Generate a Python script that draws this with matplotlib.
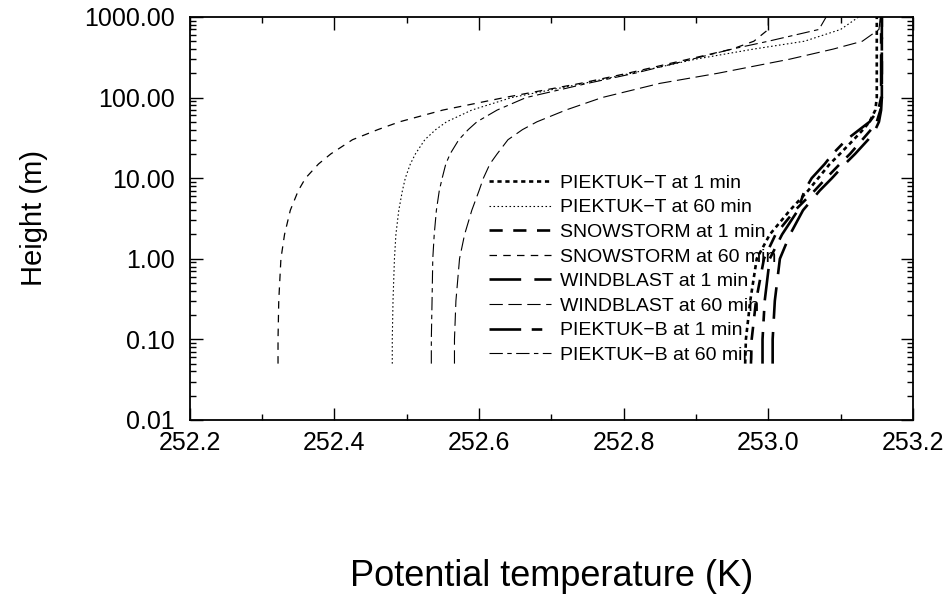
import numpy as np
import matplotlib.pyplot as plt
from matplotlib.ticker import FixedLocator, FormatStrFormatter, LogLocator, NullFormatter

plt.rcParams['font.family'] = ['Liberation Sans', 'DejaVu Sans']

heights = [0.05, 0.1, 0.3, 1, 2, 4, 7, 10, 15, 20, 30, 40, 50, 70,
           100, 150, 200, 300, 400, 500, 700, 1000]

# potential temperature (K)
piektuk_t_1 = [252.968, 252.969, 252.975, 252.984, 253.002, 253.030, 253.055, 253.069, 253.085, 253.099,
               253.118, 253.131, 253.140, 253.148, 253.150, 253.150, 253.150, 253.150, 253.150, 253.150,
               253.150, 253.150]
piektuk_t_60 = [252.480, 252.480, 252.481, 252.483, 252.485, 252.489, 252.494, 252.498, 252.505, 252.512,
                252.525, 252.540, 252.555, 252.590, 252.645, 252.745, 252.810, 252.900, 252.980, 253.050,
                253.100, 253.125]
snowstorm_1 = [252.976, 252.977, 252.983, 252.994, 253.010, 253.037, 253.064, 253.080, 253.099, 253.113,
               253.130, 253.142, 253.150, 253.155, 253.157, 253.157, 253.157, 253.157, 253.157, 253.157,
               253.157, 253.157]
snowstorm_60 = [252.322, 252.322, 252.323, 252.326, 252.331, 252.339, 252.350, 252.360, 252.378, 252.395,
                252.425, 252.460, 252.490, 252.550, 252.635, 252.740, 252.805, 252.890, 252.950, 252.980,
                253.000, 253.000]
windblast_1 = [253.006, 253.006, 253.009, 253.016, 253.030, 253.048, 253.071, 253.088, 253.106, 253.120,
               253.138, 253.148, 253.153, 253.156, 253.157, 253.157, 253.157, 253.157, 253.157, 253.157,
               253.157, 253.157]
windblast_60 = [252.566, 252.566, 252.568, 252.573, 252.580, 252.590, 252.600, 252.606, 252.615, 252.625,
                252.640, 252.660, 252.680, 252.720, 252.770, 252.850, 252.930, 253.030, 253.090, 253.130,
                253.153, 253.155]
piektuk_b_1 = [252.992, 252.992, 252.995, 253.002, 253.019, 253.041, 253.050, 253.060, 253.078, 253.089,
               253.108, 253.126, 253.140, 253.152, 253.156, 253.156, 253.156, 253.156, 253.156, 253.156,
               253.156, 253.156]
piektuk_b_60 = [252.534, 252.534, 252.535, 252.536, 252.538, 252.541, 252.545, 252.549, 252.554, 252.560,
                252.572, 252.585, 252.597, 252.625, 252.665, 252.750, 252.815, 252.895, 252.950, 253.000,
                253.070, 253.080]

series = [
    ('PIEKTUK\u2212T at 1 min', piektuk_t_1, (0, (1.6, 1.4)), 1.9),
    ('PIEKTUK\u2212T at 60 min', piektuk_t_60, (0, (1.4, 2.2)), 0.8),
    ('SNOWSTORM at 1 min', snowstorm_1, (0, (5, 4)), 1.9),
    ('SNOWSTORM at 60 min', snowstorm_60, (0, (6, 5)), 0.9),
    ('WINDBLAST at 1 min', windblast_1, (0, (12, 5)), 1.9),
    ('WINDBLAST at 60 min', windblast_60, (0, (12, 5)), 0.8),
    ('PIEKTUK\u2212B at 1 min', piektuk_b_1, (0, (12, 4, 4, 4)), 1.9),
    ('PIEKTUK\u2212B at 60 min', piektuk_b_60, (0, (12, 4, 4, 4)), 0.8),
]

fig = plt.figure(figsize=(9.49, 6.06), dpi=100)
ax = fig.add_axes([0.200, 0.307, 0.762, 0.665])

for label, temps, ls, lw in series:
    ax.plot(temps, heights, color='black', linestyle=ls, linewidth=lw, label=label)

ax.set_yscale('log')
ax.set_xlim(252.2, 253.2)
ax.set_ylim(0.01, 1000)

ax.xaxis.set_major_locator(FixedLocator([252.2, 252.4, 252.6, 252.8, 253.0, 253.2]))
ax.xaxis.set_minor_locator(FixedLocator([252.3, 252.5, 252.7, 252.9, 253.1]))
ax.xaxis.set_major_formatter(FormatStrFormatter('%.1f'))
ax.yaxis.set_major_locator(FixedLocator([0.01, 0.1, 1, 10, 100, 1000]))
ax.yaxis.set_minor_locator(LogLocator(base=10, subs=np.arange(2, 10)))
ax.yaxis.set_major_formatter(FormatStrFormatter('%.2f'))
ax.yaxis.set_minor_formatter(NullFormatter())

ax.tick_params(which='both', direction='in', top=True, right=True, labelsize=18, width=1.0)
ax.tick_params(which='major', length=9)
ax.tick_params(which='minor', length=4.5)
ax.tick_params(axis='x', which='major', pad=8)
ax.tick_params(axis='y', which='major', pad=11)
for sp in ax.spines.values():
    sp.set_linewidth(1.3)

ax.set_xlabel('Potential temperature (K)', fontsize=26, labelpad=75)
ax.set_ylabel('Height (m)', fontsize=21, labelpad=26)

leg = ax.legend(loc='upper left', bbox_to_anchor=(0.40, 0.634), frameon=False, fontsize=14,
                handlelength=3.2, handletextpad=0.45, labelspacing=0.36, borderpad=0)

fig.savefig('out.png', dpi=100)
